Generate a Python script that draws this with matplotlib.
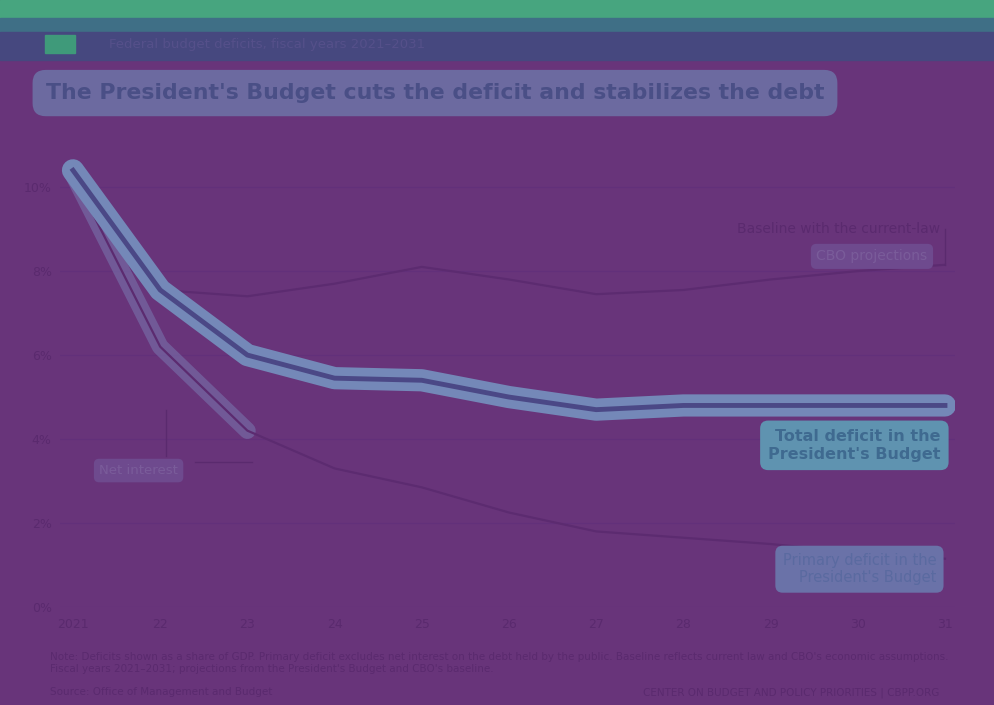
import matplotlib.pyplot as plt
from matplotlib.patches import Rectangle

# data (% of GDP)
years = [2021, 2022, 2023, 2024, 2025, 2026, 2027, 2028, 2029, 2030, 2031]
year_labels = ["2021", "22", "23", "24", "25", "26", "27", "28", "29", "30", "31"]
total_deficit = [10.4, 7.55, 6.0, 5.45, 5.4, 5.0, 4.7, 4.8, 4.8, 4.8, 4.8]
baseline = [10.4, 7.55, 7.4, 7.7, 8.1, 7.8, 7.45, 7.55, 7.8, 8.0, 8.15]
primary_deficit = [10.3, 6.2, 4.2, 3.3, 2.85, 2.25, 1.8, 1.65, 1.5, 1.3, 1.15]
y_ticks = [0, 2, 4, 6, 8, 10]
y_labels = ["0%", "2%", "4%", "6%", "8%", "10%"]

bg = "#68347a"
dark = "#5a2a6e"
fig = plt.figure(figsize=(9.94, 7.05), dpi=100, facecolor=bg)

# header bands
fig.patches.append(Rectangle((0, 0.975), 1, 0.025, transform=fig.transFigure, color="#47a57f", zorder=0))
fig.patches.append(Rectangle((0, 0.955), 1, 0.02, transform=fig.transFigure, color="#3f6f86", zorder=0))
fig.patches.append(Rectangle((0, 0.915), 1, 0.04, transform=fig.transFigure, color="#46487f", zorder=0))
fig.patches.append(Rectangle((0.045, 0.925), 0.03, 0.025, transform=fig.transFigure, color="#3f9a7a", zorder=1))
fig.text(0.11, 0.937, "Federal budget deficits, fiscal years 2021–2031", fontsize=9.5,
         color="#55508a", va="center")

# title
fig.text(0.046, 0.868, "The President's Budget cuts the deficit and stabilizes the debt",
         fontsize=15.8, fontweight="bold", color="#4a4f86", va="center",
         bbox=dict(boxstyle="round,pad=0.6", fc="#6c6aa0", ec="none"))

ax = fig.add_axes([60 / 994, 0.139, 895 / 994, 0.648])
ax.set_facecolor(bg)

# lines
ax.plot(years, baseline, color="#5c2b70", lw=1.6, zorder=3, solid_joinstyle="round")
ax.plot(years[:3], primary_deficit[:3], color="#7a78b0", lw=12, alpha=0.55,
        solid_capstyle="round", solid_joinstyle="round", zorder=2)
ax.plot(years, primary_deficit, color="#5c2b70", lw=1.6, zorder=3, solid_joinstyle="round")
ax.plot(years, total_deficit, color="#7488b8", lw=16, solid_capstyle="round",
        solid_joinstyle="round", zorder=4)
ax.plot(years, total_deficit, color="#4b4886", lw=3.5, zorder=5, solid_joinstyle="round")

# labels
ax.text(2030.95, 9.0, "Baseline with the current-law", fontsize=10, color=dark,
        ha="right", va="center", zorder=6)
ax.text(2030.8, 8.35, "CBO projections", fontsize=10, color="#7a5c9a", ha="right", va="center",
        bbox=dict(boxstyle="round,pad=0.4", fc="#6e4a8e", ec="none"), zorder=6)
ax.plot([2031.0, 2031.0], [8.15, 9.0], color=dark, lw=1, zorder=6)

ax.text(2030.95, 3.85, "Total deficit in the\nPresident's Budget", fontsize=11.5,
        fontweight="bold", color="#3f6a90", ha="right", va="center", linespacing=1.3,
        bbox=dict(boxstyle="round,pad=0.5", fc="#5f93b0", ec="none"), zorder=6)

ax.text(2030.9, 0.9, "Primary deficit in the\nPresident's Budget", fontsize=10.5,
        color="#5a6aa0", ha="right", va="center", linespacing=1.2,
        bbox=dict(boxstyle="round,pad=0.5", fc="#6a72a8", ec="none"), zorder=6)

ax.text(2021.3, 3.25, "Net interest", fontsize=9.5, color="#7a5c9a", ha="left", va="center",
        bbox=dict(boxstyle="round,pad=0.4", fc="#6e4a8e", ec="none"), zorder=6)
ax.plot([2022.07, 2022.07], [4.7, 3.6], color=dark, lw=1, zorder=6)
ax.plot([2022.4, 2023.05], [3.45, 3.45], color=dark, lw=1, zorder=6)

# axes
ax.set_xlim(2020.851, 2031.115)
ax.set_ylim(0, 10.88)
ax.set_xticks(years)
ax.set_xticklabels(year_labels)
ax.set_yticks(y_ticks)
ax.set_yticklabels(y_labels)
ax.tick_params(length=0, colors=dark, labelsize=9)
ax.tick_params(axis="y", pad=6)
ax.tick_params(axis="x", pad=8)
for s in ax.spines.values():
    s.set_visible(False)
ax.grid(axis="y", color="#62307a", lw=0.8)
ax.set_axisbelow(True)

# footer
fig.text(0.05, 0.06, "Note: Deficits shown as a share of GDP. Primary deficit excludes net interest on the debt held by the public. "
         "Baseline reflects current law and CBO's economic assumptions.\nFiscal years 2021–2031; projections from the President's Budget and CBO's baseline.",
         fontsize=7.5, color=dark, va="center", linespacing=1.3)
fig.text(0.05, 0.018, "Source: Office of Management and Budget", fontsize=7.5, color=dark, va="center")
fig.text(0.945, 0.018, "CENTER ON BUDGET AND POLICY PRIORITIES | CBPP.ORG", fontsize=7.5,
         color=dark, va="center", ha="right")

fig.savefig("out.png", dpi=100, facecolor=bg)
